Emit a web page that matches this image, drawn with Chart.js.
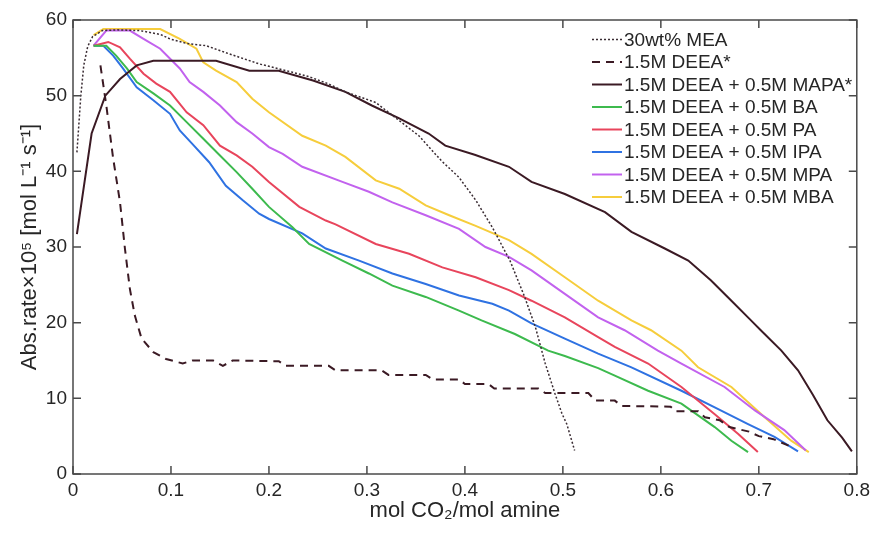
<!DOCTYPE html>
<html>
<head>
<meta charset="utf-8">
<script src="https://cdn.jsdelivr.net/npm/chart.js@4.4.1/dist/chart.umd.min.js"></script>
<style>
  html, body { margin: 0; padding: 0; background: #fff; }
</style>
</head>
<body>
<canvas id="chart" width="875" height="533"></canvas>
<script>
const FONT = '"Liberation Sans", Arial, Helvetica, sans-serif';

// axis ticks
const xTicks = [0, 0.1, 0.2, 0.3, 0.4, 0.5, 0.6, 0.7, 0.8];
const yTicks = [0, 10, 20, 30, 40, 50, 60];

// legend labels
const labels = [
  '30wt% MEA',
  '1.5M DEEA*',
  '1.5M DEEA + 0.5M MAPA*',
  '1.5M DEEA + 0.5M BA',
  '1.5M DEEA + 0.5M PA',
  '1.5M DEEA + 0.5M IPA',
  '1.5M DEEA + 0.5M MPA',
  '1.5M DEEA + 0.5M MBA'
];

// 30wt% MEA
const meaX = [0.004, 0.008, 0.011, 0.015, 0.02, 0.03, 0.045, 0.068, 0.089, 0.099, 0.116, 0.136, 0.16, 0.19, 0.224, 0.241, 0.26, 0.278, 0.309, 0.333, 0.353, 0.376, 0.394, 0.411, 0.428, 0.446, 0.461, 0.472, 0.482, 0.492, 0.499, 0.504, 0.512];
const meaY = [42.5, 50, 54, 56.5, 57.8, 58.6, 58.7, 58.6, 58.1, 57.5, 56.9, 56.6, 55.5, 54.2, 53.1, 52.5, 51.6, 50.5, 49.1, 46.7, 44.7, 41.4, 39.2, 36.2, 32.6, 28.2, 23.4, 19.4, 14.6, 10.6, 8.0, 6.6, 3.1];

// 1.5M DEEA
const deeaX = [0.028, 0.034, 0.041, 0.048, 0.053, 0.058, 0.063, 0.07, 0.082, 0.095, 0.112, 0.122, 0.143, 0.153, 0.163, 0.21, 0.217, 0.261, 0.268, 0.315, 0.322, 0.36, 0.367, 0.394, 0.4, 0.424, 0.43, 0.475, 0.482, 0.526, 0.533, 0.553, 0.56, 0.61, 0.615, 0.638, 0.645, 0.66, 0.67, 0.69, 0.7, 0.715, 0.735];
const deeaY = [54, 48.7, 41.7, 35.9, 29.8, 24.5, 21, 17.9, 16.1, 15.2, 14.6, 15, 15, 14.3, 15, 14.9, 14.3, 14.3, 13.7, 13.7, 13.1, 13.1, 12.5, 12.5, 11.9, 11.9, 11.3, 11.3, 10.7, 10.7, 9.7, 9.7, 9.0, 8.9, 8.3, 8.3, 7.5, 7.1, 6.2, 5.6, 5.0, 4.6, 3.5];

// 1.5M DEEA + 0.5M MAPA
const mapaX = [0.004, 0.019, 0.033, 0.048, 0.065, 0.082, 0.146, 0.18, 0.21, 0.245, 0.278, 0.305, 0.333, 0.363, 0.38, 0.41, 0.445, 0.468, 0.502, 0.543, 0.57, 0.604, 0.628, 0.651, 0.672, 0.692, 0.702, 0.723, 0.74, 0.755, 0.77, 0.785, 0.795];
const mapaY = [31.7, 45, 50, 52.2, 54, 54.6, 54.6, 53.3, 53.3, 52, 50.5, 48.7, 47, 45, 43.4, 42.2, 40.6, 38.6, 37, 34.6, 32, 29.8, 28.2, 25.6, 22.9, 20.3, 19, 16.3, 13.7, 10.5, 7.1, 4.8, 3.0];

// 1.5M DEEA + 0.5M BA
const baX = [0.021, 0.034, 0.044, 0.055, 0.065, 0.082, 0.099, 0.116, 0.133, 0.15, 0.167, 0.183, 0.2, 0.224, 0.241, 0.275, 0.302, 0.326, 0.36, 0.394, 0.417, 0.451, 0.485, 0.502, 0.536, 0.553, 0.587, 0.621, 0.655, 0.672, 0.689];
const baY = [56.6, 56.6, 55.3, 53.6, 51.8, 50.3, 48.7, 46.5, 44.3, 42.1, 39.9, 37.7, 35.3, 32.6, 30.4, 28.2, 26.5, 24.9, 23.4, 21.6, 20.3, 18.5, 16.3, 15.6, 14, 13, 11, 9.3, 6.2, 4.4, 2.9];

// 1.5M DEEA + 0.5M PA
const paX = [0.021, 0.036, 0.048, 0.058, 0.072, 0.085, 0.099, 0.116, 0.133, 0.15, 0.167, 0.183, 0.2, 0.231, 0.258, 0.268, 0.309, 0.343, 0.377, 0.411, 0.445, 0.468, 0.502, 0.536, 0.553, 0.587, 0.621, 0.655, 0.679, 0.699];
const paY = [56.6, 57.1, 56.4, 54.9, 52.9, 51.6, 50.5, 47.8, 46.1, 43.4, 42.1, 40.6, 38.6, 35.3, 33.5, 33, 30.4, 29.1, 27.3, 26, 24.3, 22.9, 20.7, 18.1, 16.8, 14.6, 11.5, 7.9, 5.3, 2.9];

// 1.5M DEEA + 0.5M IPA
const ipaX = [0.021, 0.031, 0.041, 0.051, 0.065, 0.082, 0.099, 0.109, 0.122, 0.139, 0.156, 0.173, 0.19, 0.2, 0.234, 0.258, 0.292, 0.326, 0.36, 0.394, 0.428, 0.445, 0.468, 0.502, 0.536, 0.57, 0.621, 0.655, 0.689, 0.716, 0.74];
const ipaY = [56.6, 56.6, 55.3, 53.6, 51.1, 49.4, 47.6, 45.4, 43.6, 41.2, 38.1, 36.2, 34.4, 33.7, 31.8, 29.8, 28.2, 26.5, 25.1, 23.6, 22.5, 21.6, 19.9, 17.9, 15.9, 14.1, 11, 8.8, 6.6, 4.9, 3.0];

// 1.5M DEEA + 0.5M MPA
const mpaX = [0.021, 0.034, 0.058, 0.072, 0.089, 0.109, 0.119, 0.133, 0.15, 0.167, 0.183, 0.2, 0.214, 0.234, 0.275, 0.302, 0.326, 0.36, 0.394, 0.421, 0.445, 0.468, 0.502, 0.536, 0.563, 0.597, 0.621, 0.665, 0.696, 0.726, 0.748];
const mpaY = [56.6, 58.6, 58.6, 57.5, 56.2, 53.6, 51.8, 50.5, 48.7, 46.5, 45, 43.2, 42.3, 40.6, 38.6, 37.3, 35.9, 34.2, 32.4, 30, 28.7, 26.9, 23.8, 20.7, 19, 16.3, 14.6, 11.5, 8.4, 5.8, 3.1];

// 1.5M DEEA + 0.5M MBA
const mbaX = [0.021, 0.031, 0.089, 0.109, 0.126, 0.133, 0.146, 0.167, 0.183, 0.2, 0.234, 0.258, 0.278, 0.309, 0.333, 0.36, 0.384, 0.411, 0.445, 0.468, 0.502, 0.536, 0.57, 0.59, 0.621, 0.638, 0.672, 0.706, 0.733, 0.751];
const mbaY = [58, 58.8, 58.8, 57.5, 56.2, 54.4, 53.3, 51.8, 49.6, 47.8, 44.7, 43.4, 41.9, 38.8, 37.7, 35.5, 34.2, 32.8, 30.9, 29.1, 26, 22.9, 20.3, 19.0, 16.3, 14.1, 11.5, 7.5, 4.4, 2.9];

function pts(xs, ys) {
  return xs.map((x, i) => ({ x, y: ys[i] }));
}

function series(label, xs, ys, color, dash, width) {
  return {
    label,
    data: pts(xs, ys),
    borderColor: color,
    backgroundColor: color,
    borderWidth: width,
    borderDash: dash,
    pointRadius: 0,
    tension: 0,
    fill: false
  };
}

const datasets = [
  series(labels[0], meaX, meaY, '#3a2c33', [2, 2], 1.5),
  series(labels[1], deeaX, deeaY, '#3b1a24', [8, 6], 2),
  series(labels[2], mapaX, mapaY, '#3b1a24', [], 2),
  series(labels[3], baX, baY, '#3dba4e', [], 2),
  series(labels[4], paX, paY, '#e8455c', [], 2),
  series(labels[5], ipaX, ipaY, '#2f72e2', [], 2),
  series(labels[6], mpaX, mpaY, '#c262ee', [], 2),
  series(labels[7], mbaX, mbaY, '#f6cd3c', [], 2)
];

// box round the plot with inward ticks on all sides
const framePlugin = {
  id: 'frame',
  afterDatasetsDraw(chart) {
    const { ctx, chartArea: a, scales: { x, y } } = chart;
    ctx.save();
    ctx.strokeStyle = '#4a4a4a';
    ctx.lineWidth = 1.5;
    ctx.strokeRect(a.left, a.top, a.right - a.left, a.bottom - a.top);
    ctx.beginPath();
    xTicks.forEach((v) => {
      const px = x.getPixelForValue(v);
      ctx.moveTo(px, a.bottom); ctx.lineTo(px, a.bottom - 8);
      ctx.moveTo(px, a.top); ctx.lineTo(px, a.top + 8);
    });
    yTicks.forEach((v) => {
      const py = y.getPixelForValue(v);
      ctx.moveTo(a.left, py); ctx.lineTo(a.left + 8, py);
      ctx.moveTo(a.right, py); ctx.lineTo(a.right - 8, py);
    });
    ctx.stroke();
    ctx.restore();
  }
};

// legend inside the plot, top right, no box
const legendPlugin = {
  id: 'insideLegend',
  afterDraw(chart) {
    const { ctx } = chart;
    ctx.save();
    ctx.font = '19px ' + FONT;
    ctx.textBaseline = 'middle';
    ctx.textAlign = 'left';
    chart.data.datasets.forEach((ds, i) => {
      const yy = 39.5 + i * 22.5;
      ctx.strokeStyle = ds.borderColor;
      ctx.lineWidth = ds.borderWidth;
      ctx.setLineDash(ds.borderDash);
      ctx.beginPath();
      ctx.moveTo(592, yy);
      ctx.lineTo(622, yy);
      ctx.stroke();
      ctx.setLineDash([]);
      ctx.fillStyle = '#262626';
      ctx.fillText(ds.label, 624, yy + 1);
    });
    ctx.restore();
  }
};

new Chart(document.getElementById('chart'), {
  type: 'line',
  data: { datasets },
  options: {
    responsive: false,
    animation: false,
    layout: { padding: { top: 20, right: 15, left: 0, bottom: 0 } },
    plugins: { legend: { display: false }, tooltip: { enabled: false } },
    scales: {
      x: {
        type: 'linear',
        min: 0,
        max: 0.8,
        afterBuildTicks: (s) => { s.ticks = xTicks.map((v) => ({ value: v })); },
        afterFit: (s) => { s.height = 59; },
        grid: { display: false, drawTicks: false },
        border: { display: false },
        ticks: {
          padding: 5,
          color: '#262626',
          font: { family: FONT, size: 19 },
          maxRotation: 0,
          callback: (v) => (v === 0 ? '0' : Number(v).toFixed(1))
        },
        title: {
          display: true,
          text: 'mol CO₂/mol amine',
          color: '#262626',
          font: { family: FONT, size: 22 },
          padding: { top: 0, bottom: 9 }
        }
      },
      y: {
        type: 'linear',
        min: 0,
        max: 60,
        afterBuildTicks: (s) => { s.ticks = yTicks.map((v) => ({ value: v })); },
        afterFit: (s) => { s.width = 73; },
        grid: { display: false, drawTicks: false },
        border: { display: false },
        ticks: {
          padding: 6,
          color: '#262626',
          font: { family: FONT, size: 19 }
        },
        title: {
          display: true,
          text: 'Abs.rate×10⁵ [mol L⁻¹ s⁻¹]',
          color: '#262626',
          font: { family: FONT, size: 22 },
          padding: { top: 17, bottom: 0 }
        }
      }
    }
  },
  plugins: [framePlugin, legendPlugin]
});
</script>
</body>
</html>
